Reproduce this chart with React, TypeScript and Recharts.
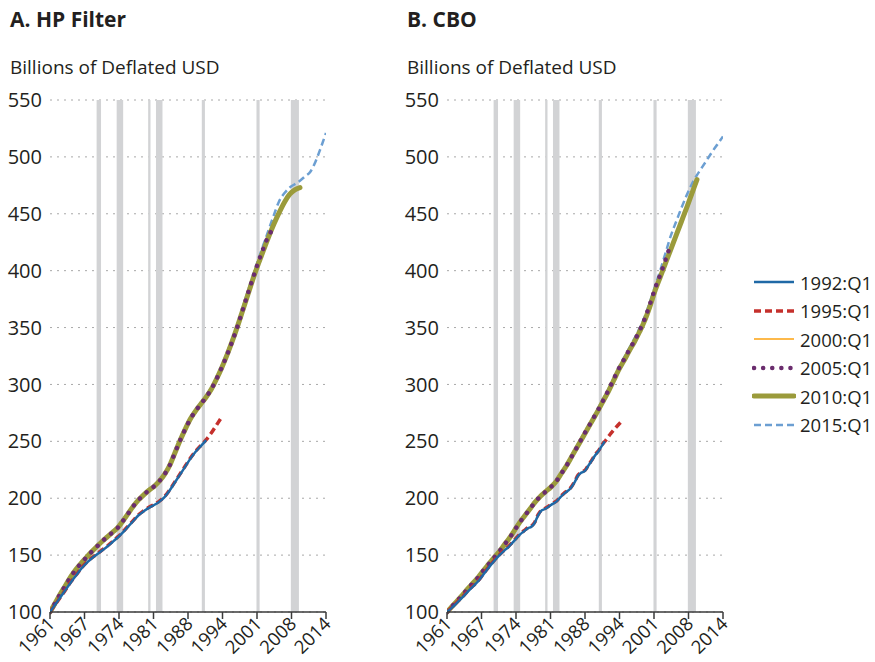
import React from 'react'
import { LineChart, Line, XAxis, YAxis, CartesianGrid, ReferenceArea } from 'recharts'

// tick labels + y ticks
const xTickLabels = ['1961', '1967', '1974', '1981', '1988', '1994', '2001', '2008', '2014']
const yTicks = [100, 150, 200, 250, 300, 350, 400, 450, 500, 550]

// recession bands, [start, end] in years
const recessions = [
  [1969.95, 1970.8], [1973.8, 1975.05], [1979.85, 1980.3], [1981.35, 1982.6],
  [1990.15, 1990.75], [2000.65, 2001.25], [2007.25, 2008.8],
]

// A. HP filter vintages
const hp1992 = [
  [1961, 100], [1962, 106.5], [1963, 113], [1964, 119.5], [1965, 126], [1966, 132], [1967, 138],
  [1968, 143], [1969, 147], [1970, 150.5], [1971, 154], [1972, 157.5], [1973, 161.5], [1974, 165.5],
  [1975, 170], [1976, 175], [1977, 180], [1978, 185], [1979, 188.5], [1980, 191.5], [1981, 194],
  [1982, 197], [1983, 201], [1984, 207], [1985, 214], [1986, 221], [1987, 228], [1988, 235],
  [1989, 241], [1990, 246], [1991, 251],
]
const hp1995 = [
  [1961, 100], [1962, 106.5], [1963, 113], [1964, 119.5], [1965, 126.5], [1966, 132.5], [1967, 138.5],
  [1968, 143.5], [1969, 147.5], [1970, 151], [1971, 154.5], [1972, 158], [1973, 162], [1974, 166],
  [1975, 170.5], [1976, 175.5], [1977, 180.5], [1978, 185.5], [1979, 189], [1980, 192], [1981, 194.5],
  [1982, 197.5], [1983, 201.5], [1984, 207.5], [1985, 214.5], [1986, 221.5], [1987, 228.5], [1988, 235.5],
  [1989, 241.5], [1990, 246.5], [1991, 251.5], [1992, 257.5], [1993, 264.5], [1994, 271.5],
]
const hp2010 = [
  [1961, 100], [1962, 108], [1963, 116], [1964, 123.5], [1965, 131], [1966, 137.5], [1967, 143],
  [1968, 148], [1969, 153], [1970, 157.5], [1971, 162], [1972, 166], [1973, 170], [1974, 174],
  [1975, 180], [1976, 186.5], [1977, 193], [1978, 198.5], [1979, 203], [1980, 207], [1981, 210.5],
  [1982, 215], [1983, 221], [1984, 229], [1985, 240], [1986, 251], [1987, 261], [1988, 270],
  [1989, 277], [1990, 283], [1991, 289], [1992, 296], [1993, 305], [1994, 315], [1995, 326],
  [1996, 338], [1997, 351], [1998, 365], [1999, 379], [2000, 393], [2001, 406], [2002, 418],
  [2003, 430], [2004, 441], [2005, 451], [2006, 460], [2007, 467], [2008, 471], [2009, 473],
]
const hp2000 = [
  [1961, 100], [1962, 107.5], [1963, 115], [1964, 122.5], [1965, 130], [1966, 136.5], [1967, 142],
  [1968, 147], [1969, 152], [1970, 156.5], [1971, 161], [1972, 165], [1973, 169], [1974, 173],
  [1975, 179], [1976, 185.5], [1977, 192], [1978, 197.5], [1979, 202], [1980, 206], [1981, 209.5],
  [1982, 214], [1983, 220], [1984, 228], [1985, 238.5], [1986, 249.5], [1987, 259.5], [1988, 268.5],
  [1989, 275.5], [1990, 281.5], [1991, 287.5], [1992, 294.5], [1993, 303.5], [1994, 313.5], [1995, 324.5],
  [1996, 336.5], [1997, 349], [1998, 362.5], [1999, 376.5],
]
const hp2005 = [
  [1961, 100], [1962, 108], [1963, 116], [1964, 123.5], [1965, 131], [1966, 137.5], [1967, 143],
  [1968, 148], [1969, 153], [1970, 157.5], [1971, 162], [1972, 166], [1973, 170], [1974, 174],
  [1975, 180], [1976, 186.5], [1977, 193], [1978, 198.5], [1979, 203], [1980, 207], [1981, 210.5],
  [1982, 215], [1983, 221], [1984, 229], [1985, 240], [1986, 251], [1987, 261], [1988, 270],
  [1989, 277], [1990, 283], [1991, 289], [1992, 296], [1993, 305], [1994, 315], [1995, 326],
  [1996, 338], [1997, 351], [1998, 365.5], [1999, 380], [2000, 394], [2001, 407.5], [2002, 420],
  [2003, 431], [2004, 437],
]
const hp2015 = [
  [1961, 100], [1962, 108.5], [1963, 116.5], [1964, 124], [1965, 131.5], [1966, 138], [1967, 143.5],
  [1968, 148.5], [1969, 153.5], [1970, 158], [1971, 162.5], [1972, 166.5], [1973, 170.5], [1974, 174.5],
  [1975, 180.5], [1976, 187], [1977, 193.5], [1978, 199], [1979, 203.5], [1980, 207.5], [1981, 211],
  [1982, 215.5], [1983, 222], [1984, 230], [1985, 241], [1986, 252], [1987, 262], [1988, 271],
  [1989, 278], [1990, 284], [1991, 290], [1992, 297], [1993, 306.5], [1994, 317], [1995, 328],
  [1996, 340], [1997, 353], [1998, 367.5], [1999, 382], [2000, 396], [2001, 410], [2002, 423],
  [2003, 436], [2004, 449], [2005, 461], [2006, 468], [2007, 473], [2008, 476], [2009, 479],
  [2010, 483], [2011, 487], [2012, 496], [2013, 508], [2014, 521],
]

// B. CBO vintages
const cbo1992 = [
  [1961, 100], [1962, 104], [1963, 108.5], [1964, 113], [1965, 118], [1966, 122.5], [1967, 127],
  [1968, 133], [1969, 139], [1970, 144.5], [1971, 149.5], [1972, 154], [1972.8, 157], [1973.5, 160.5],
  [1974.3, 164.5], [1975, 168], [1975.8, 171], [1976.5, 173.5], [1977.2, 175], [1977.8, 178],
  [1978.5, 185], [1979, 188.5], [1979.8, 190.5], [1980.5, 192.5], [1981.3, 195], [1982, 197],
  [1982.8, 201], [1983.5, 204], [1984.2, 206.5], [1984.8, 209], [1985.5, 214], [1986.2, 220],
  [1986.8, 222.5], [1987.5, 224], [1988.2, 229], [1988.8, 233], [1989.5, 238], [1990.2, 242],
  [1990.8, 246.5], [1991.3, 250],
]
const cbo1995 = [
  [1961, 100], [1962, 104.5], [1963, 109], [1964, 113.5], [1965, 118.5], [1966, 123], [1967, 127.5],
  [1968, 133.5], [1969, 139.5], [1970, 145], [1971, 150], [1972, 154.5], [1972.8, 157.5], [1973.5, 161],
  [1974.3, 165], [1975, 168.5], [1975.8, 171.5], [1976.5, 174], [1977.2, 175.5], [1977.8, 178.5],
  [1978.5, 185.5], [1979, 189], [1979.8, 191], [1980.5, 193], [1981.3, 195.5], [1982, 197.5],
  [1982.8, 201.5], [1983.5, 204.5], [1984.2, 207], [1984.8, 209.5], [1985.5, 214.5], [1986.2, 220.5],
  [1986.8, 223], [1987.5, 224.5], [1988.2, 229.5], [1988.8, 233.5], [1989.5, 238.5], [1990.2, 242.5],
  [1990.8, 247], [1991.5, 251], [1992.3, 256], [1993.3, 261.5], [1994.4, 267],
]
const cbo2010 = [
  [1961, 100], [1962, 105], [1963, 110], [1964, 115], [1965, 120.5], [1966, 125.5], [1967, 130.5],
  [1968, 136.5], [1969, 142], [1970, 147.5], [1971, 153], [1972, 159], [1973, 165], [1974, 172],
  [1975, 179], [1976, 185], [1977, 191], [1978, 197], [1979, 202], [1980, 206], [1981, 210],
  [1982, 215], [1983, 222], [1984, 229], [1985, 237], [1986, 245], [1987, 253], [1988, 261],
  [1989, 269], [1990, 277], [1991, 285.5], [1992, 294], [1993, 303.5], [1994, 313], [1995, 321],
  [1996, 329.5], [1997, 337.5], [1998, 346.5], [1999, 356.5], [2000, 369], [2001, 383], [2002, 395],
  [2003, 407], [2004, 419], [2005, 431], [2006, 443], [2007, 455], [2008, 467.5], [2009, 480],
]
const cbo2000 = [
  [1961, 100], [1962, 105], [1963, 110], [1964, 115], [1965, 120], [1966, 125], [1967, 130],
  [1968, 136], [1969, 141.5], [1970, 147], [1971, 152.5], [1972, 158.5], [1973, 164.5], [1974, 171.5],
  [1975, 178.5], [1976, 184.5], [1977, 190.5], [1978, 196.5], [1979, 201.5], [1980, 205.5], [1981, 209.5],
  [1982, 214.5], [1983, 221], [1984, 228], [1985, 236], [1986, 244], [1987, 252], [1988, 260],
  [1989, 268], [1990, 276], [1991, 284], [1992, 292.5], [1993, 302], [1994, 311.5], [1995, 319.5],
  [1996, 328], [1997, 336], [1998, 345], [1999, 355],
]
const cbo2005 = [
  [1961, 100], [1962, 105], [1963, 110], [1964, 115], [1965, 120.5], [1966, 125.5], [1967, 130.5],
  [1968, 136.5], [1969, 142], [1970, 147.5], [1971, 153], [1972, 159], [1973, 165], [1974, 172],
  [1975, 179], [1976, 185], [1977, 191], [1978, 197], [1979, 202], [1980, 206], [1981, 210],
  [1982, 215], [1983, 222], [1984, 229], [1985, 237], [1986, 245], [1987, 253.5], [1988, 261.5],
  [1989, 269.5], [1990, 277.5], [1991, 286], [1992, 295], [1993, 304.5], [1994, 314], [1995, 322],
  [1996, 330.5], [1997, 338.5], [1998, 347.5], [1999, 358], [2000, 371], [2001, 385], [2002, 397],
  [2003, 410], [2004, 424],
]
const cbo2015 = [
  [1961, 100], [1962, 105.5], [1963, 110.5], [1964, 115.5], [1965, 121], [1966, 126], [1967, 131],
  [1968, 137], [1969, 142.5], [1970, 148], [1971, 153.5], [1972, 159.5], [1973, 165.5], [1974, 172.5],
  [1975, 179.5], [1976, 185.5], [1977, 191.5], [1978, 197.5], [1979, 202.5], [1980, 206.5], [1981, 210.5],
  [1982, 215.5], [1983, 223], [1984, 230], [1985, 238.5], [1986, 246.5], [1987, 254.5], [1988, 262.5],
  [1989, 270.5], [1990, 279], [1991, 287.5], [1992, 296], [1993, 305.5], [1994, 315], [1995, 323.5],
  [1996, 332], [1997, 340.5], [1998, 349.5], [1999, 360], [2000, 373], [2001, 387], [2002, 401],
  [2003, 416], [2004, 431], [2005, 443], [2006, 455], [2007, 466], [2008, 476], [2009, 484],
  [2010, 491], [2011, 498], [2012, 505], [2013, 511.5], [2014, 518],
]

const FONT = '"Open Sans", "Noto Sans", sans-serif'
const X0 = 1961
const X1 = 2014
const xTickPos = xTickLabels.map((_, i) => X0 + (i * (X1 - X0)) / (xTickLabels.length - 1))

const toPts = (arr: number[][]) => arr.map(([year, v]) => ({ year, v }))

// draw order: bottom to top
const series = [
  { key: '2015:Q1', color: '#6c9fd2', width: 2.5, dash: '7 4', cap: 'butt' },
  { key: '2000:Q1', color: '#fdb94b', width: 2, dash: undefined, cap: 'butt' },
  { key: '2010:Q1', color: '#9b9b3b', width: 5, dash: undefined, cap: 'round' },
  { key: '2005:Q1', color: '#6b2d6e', width: 4.5, dash: '0.1 9', cap: 'round' },
  { key: '1995:Q1', color: '#c5302c', width: 3.5, dash: '7 4', cap: 'butt' },
  { key: '1992:Q1', color: '#1f69a6', width: 2.5, dash: undefined, cap: 'butt' },
]
const legendOrder = ['1992:Q1', '1995:Q1', '2000:Q1', '2005:Q1', '2010:Q1', '2015:Q1']

const XTick = (props: any) => {
  const { x, y, payload, index } = props
  const ax = x + 6
  const ay = y + 4
  return (
    <text x={ax} y={ay} textAnchor='end' fontFamily={FONT} fontSize={18.5} fill='#231f20'
      transform={`rotate(-45, ${ax}, ${ay})`}>
      {xTickLabels[index] ?? payload.value}
    </text>
  )
}

function Panel({ left, title, data }: { left: number; title: string; data: Record<string, number[][]> }) {
  return (
    <div style={{ position: 'absolute', left, top: 0, width: 345, height: 662 }}>
      <div style={{ position: 'absolute', left: 10, top: 5, fontFamily: FONT, fontWeight: 700,
        fontSize: 21, color: '#231f20', whiteSpace: 'nowrap' }}>{title}</div>
      <div style={{ position: 'absolute', left: 10, top: 54, fontFamily: FONT, fontSize: 19,
        color: '#231f20', whiteSpace: 'nowrap' }}>Billions of Deflated USD</div>
      <div style={{ position: 'absolute', left: 0, top: 0 }}>
        <LineChart width={340} height={662} margin={{ top: 100, right: 14, left: 0, bottom: 0 }}>
          <CartesianGrid vertical={false} stroke='#a8a8a8' strokeDasharray='2 5' />
          {recessions.map(([a, b], i) => (
            <ReferenceArea key={i} x1={a} x2={b} y1={100} y2={550} fill='#d2d3d5'
              fillOpacity={1} stroke='none' />
          ))}
          <XAxis dataKey='year' type='number' domain={[X0, X1]} ticks={xTickPos}
            allowDataOverflow interval={0} height={50} tick={<XTick />}
            axisLine={{ stroke: '#3a3a3a', strokeWidth: 1.5 }}
            tickLine={{ stroke: '#3a3a3a', strokeWidth: 1.5 }} tickSize={7} />
          <YAxis type='number' domain={[100, 550]} ticks={yTicks} width={50} axisLine={false}
            tickLine={false} tickMargin={2}
            tick={{ fontFamily: FONT, fontSize: 20, fill: '#231f20' }} />
          {series.map(s => (
            <Line key={s.key} data={toPts(data[s.key])} dataKey='v' name={s.key} type='monotone'
              stroke={s.color} strokeWidth={s.width} strokeDasharray={s.dash}
              strokeLinecap={s.cap as any} dot={false} activeDot={false} isAnimationActive={false} />
          ))}
        </LineChart>
      </div>
    </div>
  )
}

function Legend() {
  return (
    <div style={{ position: 'absolute', left: 752, top: 268 }}>
      {legendOrder.map(k => {
        const s = series.find(x => x.key === k)!
        return (
          <div key={k} style={{ display: 'flex', alignItems: 'center', height: 28.5 }}>
            <svg width={44} height={10} style={{ marginRight: 4 }}>
              <line x1={2} y1={5} x2={42} y2={5} stroke={s.color} strokeWidth={s.width}
                strokeDasharray={s.dash} strokeLinecap={s.cap as any} />
            </svg>
            <span style={{ fontFamily: FONT, fontSize: 18.5, color: '#231f20' }}>{k}</span>
          </div>
        )
      })}
    </div>
  )
}

export default function App() {
  return (
    <div style={{ position: 'absolute', left: 0, top: 0, width: 875, height: 662, background: 'white' }}>
      <Panel left={0} title='A. HP Filter' data={{ '1992:Q1': hp1992, '1995:Q1': hp1995,
        '2000:Q1': hp2000, '2005:Q1': hp2005, '2010:Q1': hp2010, '2015:Q1': hp2015 }} />
      <Panel left={397} title='B. CBO' data={{ '1992:Q1': cbo1992, '1995:Q1': cbo1995,
        '2000:Q1': cbo2000, '2005:Q1': cbo2005, '2010:Q1': cbo2010, '2015:Q1': cbo2015 }} />
      <Legend />
    </div>
  )
}
